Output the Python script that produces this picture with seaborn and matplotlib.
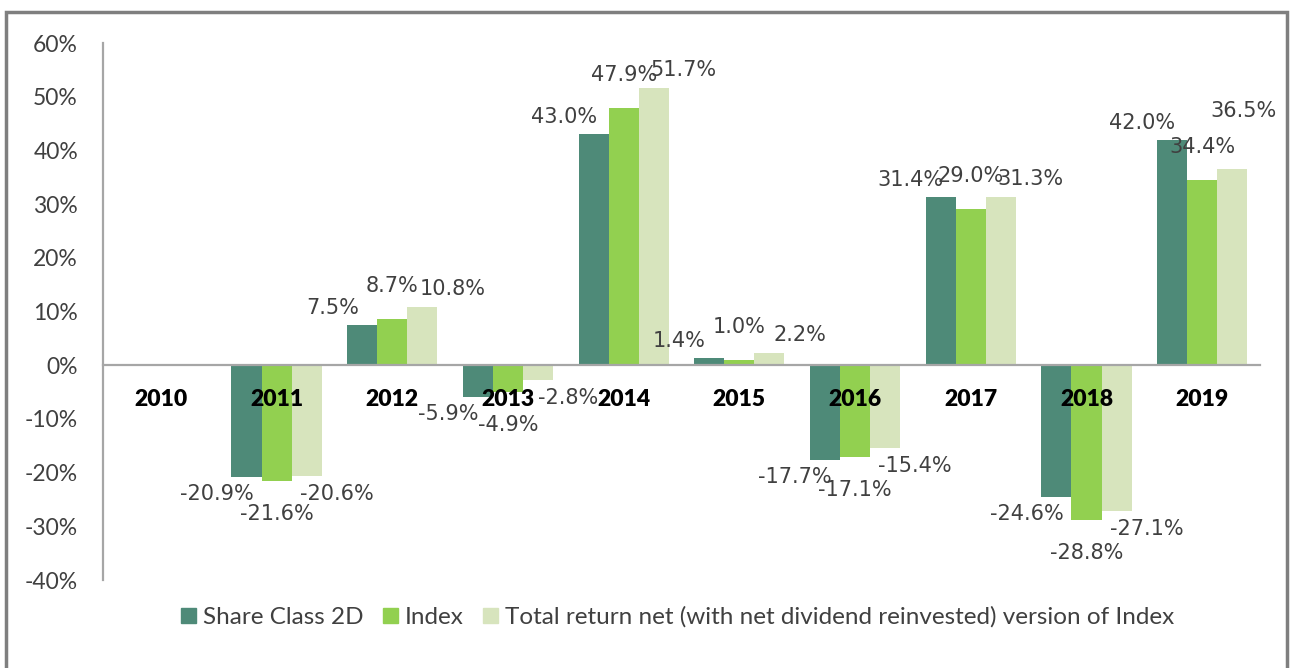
import numpy as np
import pandas as pd
import seaborn as sns
import matplotlib.pyplot as plt
from matplotlib.patches import Rectangle

years = ['2010', '2011', '2012', '2013', '2014', '2015', '2016', '2017', '2018', '2019']
share_class = [np.nan, -20.9, 7.5, -5.9, 43.0, 1.4, -17.7, 31.4, -24.6, 42.0]
index_ret = [np.nan, -21.6, 8.7, -4.9, 47.9, 1.0, -17.1, 29.0, -28.8, 34.4]
total_ret = [np.nan, -20.6, 10.8, -2.8, 51.7, 2.2, -15.4, 31.3, -27.1, 36.5]
series = ['Share Class 2D', 'Index',
          'Total return net (with net dividend reinvested) version of Index']
colors = ['#4E8A78', '#92D050', '#D7E4BD']

rows = []
for name, vals in zip(series, [share_class, index_ret, total_ret]):
    for y, v in zip(years, vals):
        rows.append({'Year': y, 'Return': v, 'Series': name})
df = pd.DataFrame(rows)

sns.set_theme(style='white')
plt.rcParams['font.family'] = ['Lato', 'DejaVu Sans']

fig = plt.figure(figsize=(12.91, 6.68), dpi=100)
ax = fig.add_axes([0.0798, 0.1317, 0.8962, 0.8039])

sns.barplot(data=df, x='Year', y='Return', hue='Series', order=years,
            hue_order=series, palette=colors, saturation=1, width=0.78,
            linewidth=0, ax=ax, legend=False)

ax.set_ylim(-40, 60)
ax.set_xlim(-0.5, 9.5)
ax.set_yticks(range(-40, 61, 10))
ax.set_yticklabels([f'{v}%' for v in range(-40, 61, 10)], fontsize=16.5, color='#404040')
ax.set_xlabel('')
ax.set_ylabel('')

ax.spines['bottom'].set_position(('data', 0))
for s in ['top', 'right']:
    ax.spines[s].set_visible(False)
for s in ['left', 'bottom']:
    ax.spines[s].set_color('#A6A6A6')
    ax.spines[s].set_linewidth(1.6)
ax.tick_params(axis='y', length=0, pad=18)
ax.tick_params(axis='x', length=0, pad=17)
ax.xaxis.set_zorder(10)  # year labels sit on top of the bars
for lbl in ax.get_xticklabels():
    lbl.set_fontweight('heavy')
    lbl.set_fontsize(16.5)
    lbl.set_color('black')

# data labels, offsets roughly like Excel's layout
offsets = [(-30, 17), (0, 33), (30, 18)]
texts = []
for cont, (dx, dy) in zip(ax.containers, offsets):
    for bar in cont:
        h = bar.get_height()
        if np.isnan(h):
            continue
        x = bar.get_x() + bar.get_width() / 2
        sign = 1 if h >= 0 else -1
        t = ax.annotate(f'{h:.1f}%', (x, h), xytext=(dx, dy * sign),
                        textcoords='offset pixels', ha='center', va='center',
                        fontsize=15, color='#404040', family='DejaVu Sans',
                        annotation_clip=False)
        texts.append((t, dx, dy * sign))

# keep labels inside the chart frame, push them up out of the way
fig.canvas.draw()
renderer = fig.canvas.get_renderer()
limit = fig.bbox.width - 14
for t, dx, dy in texts:
    bb = t.get_window_extent(renderer)
    if bb.x1 > limit:
        t.set_position((dx - (bb.x1 - limit), dy + 40))

handles = [Rectangle((0, 0), 1, 1, color=c) for c in colors]
fig.legend(handles, series, loc='center', bbox_to_anchor=(0.525, 0.076),
           ncol=3, frameon=False, fontsize=17.5, handlelength=0.6,
           handleheight=0.6, handletextpad=0.3, columnspacing=0.8,
           labelcolor='#404040')

fig.patches.append(Rectangle((0.0046, -0.02), 0.9925, 1.002, transform=fig.transFigure,
                             fill=False, edgecolor='#7F7F7F', linewidth=2.5))

fig.savefig('out.png', dpi=100)
